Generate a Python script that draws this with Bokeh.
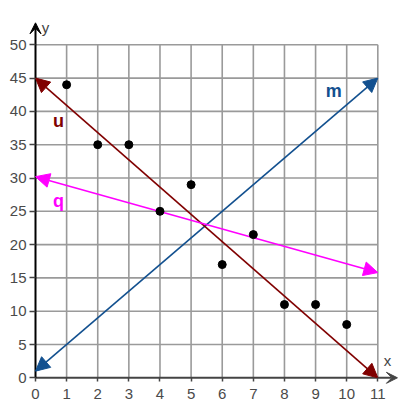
from bokeh.plotting import figure
from bokeh.models import (Range1d, LinearAxis, FixedTicker, Arrow, VeeHead,
                          NormalHead, ColumnDataSource)
from bokeh.core.properties import value
from bokeh.embed import file_html
from bokeh.resources import INLINE

# ---- data ----
x_ticks = list(range(0, 12))
y_ticks = list(range(0, 55, 5))
pts_x = [1, 2, 3, 4, 5, 6, 7, 8, 9, 10]
pts_y = [44, 35, 35, 25, 29, 17, 21.5, 11, 11, 8]

line_names = ["m", "u", "q"]
line_x0 = [0, 0, 0]
line_y0 = [1, 45, 30.2]
line_x1 = [11, 11, 11]
line_y1 = [45, 0, 15.8]
line_colors = ["#12508f", "#800000", "#ff00ff"]
label_x = [9.58, 0.74, 0.74]
label_y = [43.1, 38.6, 26.6]

axis_x_end = 11.63
axis_y_end = 53.3

FONT = "Liberation Sans"

W, H = 400, 404
SX, SY = 31.12, 6.66
OX, OY = 35, 377.3
p = figure(width=W, height=H, output_backend="svg", toolbar_location=None,
           x_range=Range1d(-OX / SX, (W - OX) / SX),
           y_range=Range1d(-(H - OY) / SY, OY / SY),
           x_axis_type=None, y_axis_type=None,
           min_border=0, min_border_left=0, min_border_right=0,
           min_border_top=0, min_border_bottom=0)
p.outline_line_color = None
p.xgrid.visible = False
p.ygrid.visible = False

# grid drawn inside the 0..11 x 0..50 box
gx = x_ticks[1:]
gy = y_ticks[1:]
p.segment(x0=gx, y0=[y_ticks[0]] * len(gx), x1=gx, y1=[y_ticks[-1]] * len(gx),
          line_color="#9a9a9a", line_width=1.6, level="image")
p.segment(x0=[x_ticks[0]] * len(gy), y0=gy, x1=[x_ticks[-1]] * len(gy), y1=gy,
          line_color="#9a9a9a", line_width=1.6, level="image")

# axes (ticks + labels) fixed at 0
xa = LinearAxis(fixed_location=0, ticker=FixedTicker(ticks=x_ticks))
ya = LinearAxis(fixed_location=0, ticker=FixedTicker(ticks=y_ticks))
for ax in (xa, ya):
    ax.axis_line_color = None
    ax.major_tick_in = 0
    ax.minor_tick_out = 0
    ax.minor_tick_in = 0
    ax.major_tick_line_color = "#444444"
    ax.major_tick_line_width = 1.5
    ax.major_label_text_font = FONT
    ax.major_label_text_font_size = "15px"
    ax.major_label_text_color = "#4a4a4a"
xa.major_tick_out = 4
xa.major_label_standoff = 7
ya.major_tick_out = 6
ya.major_label_standoff = 3
p.add_layout(xa, "below")
p.add_layout(ya, "left")

# axis arrows
p.add_layout(Arrow(x_start=0, y_start=0, x_end=axis_x_end, y_end=0,
                   line_color="#444444", line_width=2, level="underlay",
                   end=VeeHead(size=11, fill_color="#444444", line_color="#444444")))
p.add_layout(Arrow(x_start=0, y_start=0, x_end=0, y_end=axis_y_end,
                   line_color="#000000", line_width=2, level="underlay",
                   end=VeeHead(size=11, fill_color="#000000", line_color="#000000")))

# lines with arrowheads at both ends
for i in range(len(line_names)):
    c = line_colors[i]
    src = ColumnDataSource(dict(x0=[line_x0[i]], y0=[line_y0[i]],
                                x1=[line_x1[i]], y1=[line_y1[i]]))
    p.add_layout(Arrow(source=src, x_start="x0", y_start="y0", x_end="x1", y_end="y1",
                       line_color=c, line_width=1.6, level="underlay",
                       start=NormalHead(size=14, fill_color=c, line_color=c),
                       end=NormalHead(size=14, fill_color=c, line_color=c)))

p.scatter(pts_x, pts_y, size=8, color="black")

# line labels
p.text(x=label_x, y=label_y, text=line_names, text_color=line_colors,
       text_font=value(FONT), text_font_size="18px", text_font_style="bold",
       text_align="center", text_baseline="middle")

# axis labels
p.text(x=[11.31, 0.32], y=[2.6, 52.6], text=["x", "y"], text_color="#444444",
       text_font=value(FONT), text_font_size="15px",
       text_align="center", text_baseline="middle")

open("out.html", "w").write(file_html(p, INLINE))
